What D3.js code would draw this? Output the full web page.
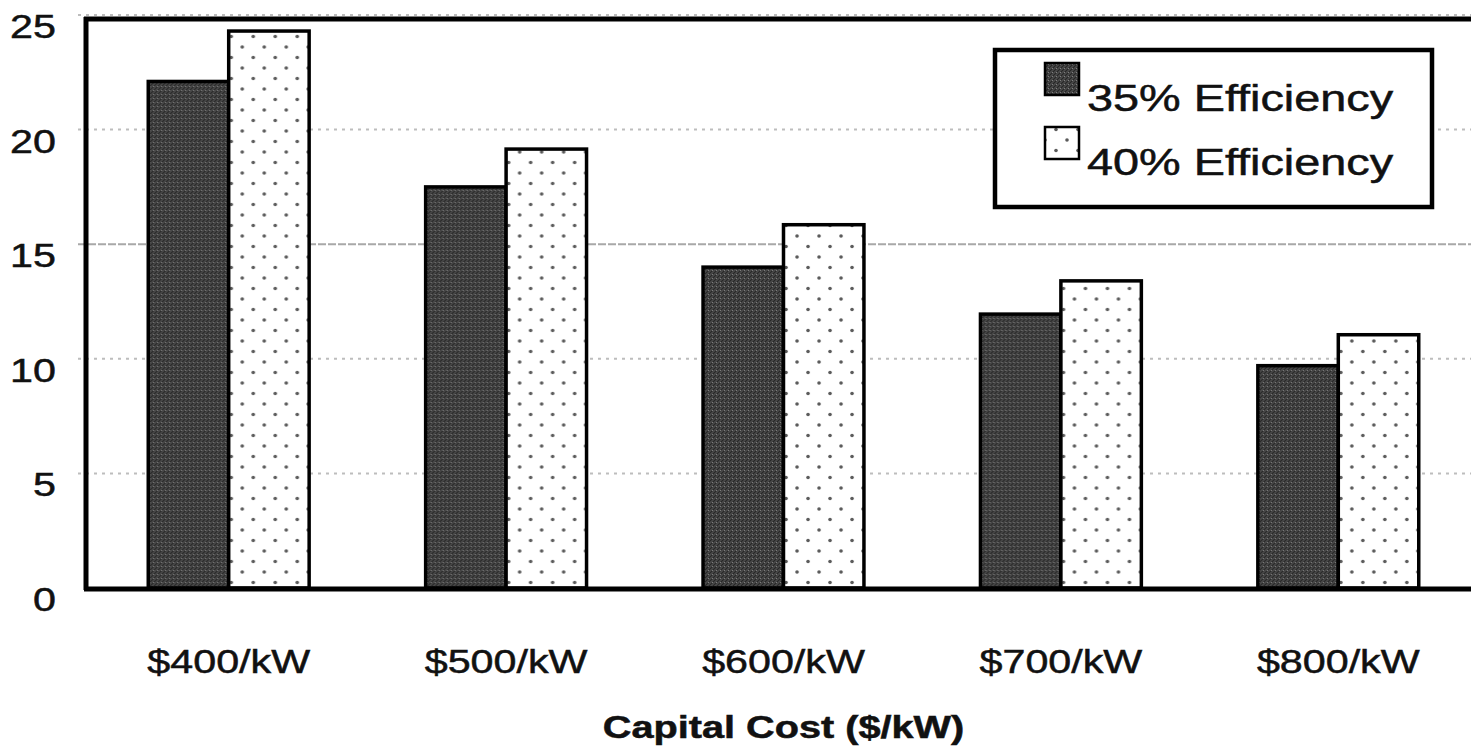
<!DOCTYPE html>
<html>
  <head>
    <meta charset="utf-8">
    <title>Capital Cost bars</title>
    <style>
body {
  margin: 0;
  background: #fff;
}
svg text {
  font-family: "Liberation Sans", Arial, sans-serif;
  fill: #111;
  stroke: #111;
  stroke-width: 0.5px;
}
    </style>
  </head>
  <body>
    <div id="chart"></div>
    <script src="https://cdn.jsdelivr.net/npm/d3@7/dist/d3.min.js"></script>
    <script>

    // values
    var categories = ['$400/kW', '$500/kW', '$600/kW', '$700/kW', '$800/kW'];
    var seriesNames = ['35% Efficiency', '40% Efficiency'];
    var eff35 = [22.1, 17.5, 14.0, 11.95, 9.7];
    var eff40 = [24.3, 19.15, 15.85, 13.4, 11.05];
    var yTicks = [0, 5, 10, 15, 20, 25];
    var xTitle = 'Capital Cost ($/kW)';

    var W = 1471, H = 752;
    var stretch = 1.25;

    var svg = d3.select('#chart').append('svg')
        .attr('width', W)
        .attr('height', H);

    // fill patterns
    var defs = svg.append('defs');

    var dark = defs.append('pattern')
        .attr('id', 'darkFill')
        .attr('patternUnits', 'userSpaceOnUse')
        .attr('width', 4)
        .attr('height', 4);
    dark.append('rect').attr('width', 4).attr('height', 4).style('fill', '#4a4a4a');
    dark.append('path')
        .attr('d', 'M-1,1 l2,-2 M0,4 l4,-4 M3,5 l2,-2')
        .style('stroke', '#252525')
        .style('stroke-width', 1.2);
    dark.append('rect').attr('x', 1).attr('y', 2).attr('width', 1).attr('height', 1).style('fill', '#808080');

    var dots = defs.append('pattern')
        .attr('id', 'dotFill')
        .attr('patternUnits', 'userSpaceOnUse')
        .attr('width', 22)
        .attr('height', 21);
    dots.append('rect').attr('width', 22).attr('height', 21).style('fill', '#fff');
    dots.append('circle').attr('cx', 6).attr('cy', 5).attr('r', 1.8).style('fill', '#5a5a5a');
    dots.append('circle').attr('cx', 17).attr('cy', 15.5).attr('r', 1.8).style('fill', '#5a5a5a');

    var fills = ['url(#darkFill)', 'url(#dotFill)'];

    var x = d3.scaleBand()
        .domain(categories)
        .range([90, 1477])
        .paddingInner(0.42)
        .paddingOuter(0.21);

    var xSub = d3.scaleBand()
        .domain(d3.range(seriesNames.length))
        .range([0, x.bandwidth()]);

    var y = d3.scaleLinear()
        .domain([0, 25])
        .range([588, 15]);

    var axisX = 86;

    // dotted gridlines
    svg.append('g').selectAll('line')
        .data(yTicks.filter(function(d) { return d > 0; }))
        .enter().append('line')
        .attr('x1', 78)
        .attr('x2', W)
        .attr('y1', function(d) { return y(d); })
        .attr('y2', function(d) { return y(d); })
        .style('stroke', function(d) { return d == 15 ? '#a8a8a8' : '#bdbdbd'; })
        .style('stroke-width', 2)
        .style('stroke-dasharray', function(d) { return d == 15 ? '8,2' : '3,5'; });

    // bars
    var rows = categories.map(function(c, i) { return [eff35[i], eff40[i]]; });

    var groups = svg.append('g').selectAll('g')
        .data(rows)
        .enter().append('g')
        .attr('transform', function(d, i) { return 'translate(' + x(categories[i]) + ',0)'; });

    groups.selectAll('rect')
        .data(function(d) { return d; })
        .enter().append('rect')
        .attr('x', function(d, j) { return xSub(j); })
        .attr('y', function(d) { return y(d); })
        .attr('width', xSub.bandwidth())
        .attr('height', function(d) { return y(0) - y(d); })
        .style('fill', function(d, j) { return fills[j]; })
        .style('stroke', '#000')
        .style('stroke-width', 3.5);

    // frame: left axis, top border, baseline
    var frameTop = y(25) + 4;
    svg.append('line')
        .attr('x1', axisX).attr('x2', axisX)
        .attr('y1', frameTop - 2).attr('y2', y(0) + 2)
        .style('stroke', '#000').style('stroke-width', 5);
    svg.append('line')
        .attr('x1', axisX - 2).attr('x2', W)
        .attr('y1', frameTop).attr('y2', frameTop)
        .style('stroke', '#000').style('stroke-width', 5);
    svg.append('line')
        .attr('x1', axisX - 2).attr('x2', W)
        .attr('y1', y(0) + 1).attr('y2', y(0) + 1)
        .style('stroke', '#000').style('stroke-width', 5);

    // y tick labels
    svg.append('g').selectAll('text')
        .data(yTicks)
        .enter().append('text')
        .attr('transform', function(d) { return 'translate(56,' + (y(d) + 23) + ') scale(' + stretch + ',1)'; })
        .attr('text-anchor', 'end')
        .style('font-size', '33px')
        .text(function(d) { return d; });

    // x tick labels
    svg.append('g').selectAll('text')
        .data(categories)
        .enter().append('text')
        .attr('transform', function(d) { return 'translate(' + (x(d) + x.bandwidth() / 2) + ',673) scale(' + stretch + ',1)'; })
        .attr('text-anchor', 'middle')
        .style('font-size', '33px')
        .text(function(d) { return d; });

    // axis title
    svg.append('text')
        .attr('transform', 'translate(' + (x(categories[2]) + x.bandwidth() / 2) + ',738) scale(1.28,1)')
        .attr('text-anchor', 'middle')
        .style('font-size', '31px')
        .style('font-weight', 'bold')
        .text(xTitle);

    // legend
    var legend = svg.append('g').attr('transform', 'translate(995,50)');
    legend.append('rect')
        .attr('width', 437)
        .attr('height', 157)
        .style('fill', '#fff')
        .style('stroke', '#000')
        .style('stroke-width', 4.5);

    var items = legend.selectAll('g.item')
        .data(seriesNames)
        .enter().append('g')
        .attr('class', 'item')
        .attr('transform', function(d, i) { return 'translate(0,' + (i * 64) + ')'; });
    items.append('rect')
        .attr('x', 50)
        .attr('y', 13)
        .attr('width', 34)
        .attr('height', 32)
        .style('fill', function(d, i) { return fills[i]; })
        .style('stroke', '#000')
        .style('stroke-width', 2.5);
    items.append('text')
        .attr('transform', 'translate(92,61) scale(1.3,1)')
        .style('font-size', '36px')
        .text(function(d) { return d; });

    </script>
  </body>
</html>
